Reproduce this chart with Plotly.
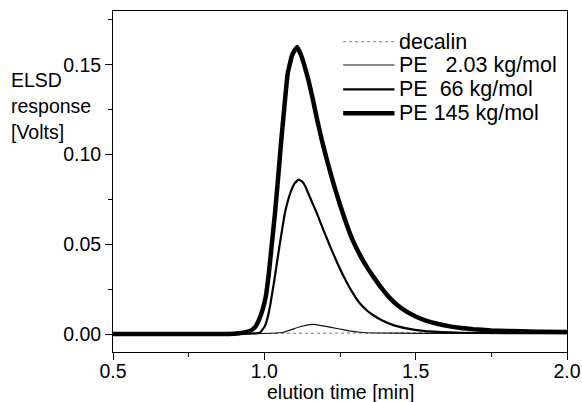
import plotly.graph_objects as go

# ---- data ----
decalin_t = [0.50, 0.90, 1.00, 1.50, 2.00]
decalin_v = [0.0000, 0.0003, 0.0007, 0.0007, 0.0007]

pe2_t = [0.50, 1.00, 1.04, 1.063, 1.09, 1.12, 1.15, 1.17, 1.20, 1.24, 1.28, 1.316, 1.36, 1.50, 2.00]
pe2_v = [0.0, 0.0003, 0.0006, 0.0010, 0.0025, 0.0042, 0.0053, 0.0053, 0.0044, 0.0031, 0.0018, 0.0010, 0.0006, 0.0004, 0.0003]

pe66_t = [0.50, 0.90, 0.96, 0.986, 1.002, 1.012, 1.019, 1.033, 1.05, 1.068, 1.08, 1.09, 1.10, 1.113,
          1.125, 1.134, 1.15, 1.173, 1.195, 1.217, 1.24, 1.261, 1.29, 1.316, 1.34, 1.36, 1.39, 1.426,
          1.47, 1.525, 1.613, 1.70, 2.00]
pe66_v = [0.0, 0.0, 0.0003, 0.0008, 0.0045, 0.0100, 0.0156, 0.0300, 0.0490, 0.0675, 0.0755, 0.0805, 0.0840, 0.0860,
          0.0850, 0.0828, 0.0765, 0.0675, 0.0580, 0.0490, 0.0400, 0.0325, 0.0235, 0.0170, 0.0130, 0.0105, 0.0075, 0.0050,
          0.0032, 0.0018, 0.0009, 0.0006, 0.0005]

pe145_t = [0.50, 0.80, 0.90, 0.93, 0.953, 0.97, 0.983, 0.995, 1.005, 1.015, 1.024, 1.035, 1.045, 1.056, 1.067,
           1.077, 1.091, 1.100, 1.108, 1.12, 1.13, 1.145, 1.16, 1.175, 1.19, 1.21, 1.23, 1.25, 1.27, 1.29,
           1.316, 1.34, 1.36, 1.39, 1.415, 1.44, 1.47, 1.50, 1.536, 1.575, 1.613, 1.65, 1.69, 1.75, 1.80, 1.90, 2.00]
pe145_v = [0.0, 0.0, 0.0002, 0.0008, 0.0017, 0.0040, 0.0082, 0.0140, 0.0211, 0.0340, 0.0490, 0.0670, 0.0860, 0.1080, 0.1280,
           0.1450, 0.1550, 0.1580, 0.1600, 0.1560, 0.1510, 0.1420, 0.1310, 0.1190, 0.1080, 0.0950, 0.0830, 0.0720, 0.0620, 0.0530,
           0.0440, 0.0370, 0.0320, 0.0250, 0.0200, 0.0160, 0.0125, 0.0098, 0.0074, 0.0056, 0.0043, 0.0034, 0.0027, 0.0020, 0.0017, 0.0013, 0.0012]

names = ["decalin",
         "PE\u00a0\u00a0\u00a02.03 kg/mol",
         "PE\u00a0\u00a066 kg/mol",
         "PE 145 kg/mol"]

x_ticks = [0.5, 1.0, 1.5, 2.0]
x_ticklabels = ["0.5", "1.0", "1.5", "2.0"]
y_ticks = [0.00, 0.05, 0.10, 0.15]
y_ticklabels = ["0.00", "0.05", "0.10", "0.15"]

FONT = "Liberation Sans, Arial, sans-serif"

styles = [dict(color="#777777", width=1, dash="dot"),
          dict(color="#111111", width=1.2),
          dict(color="black", width=2.2),
          dict(color="black", width=4.5)]

series = [(decalin_t, decalin_v), (pe2_t, pe2_v), (pe66_t, pe66_v), (pe145_t, pe145_v)]

fig = go.Figure()
for (t, v), nm, st in zip(series, names, styles):
    line = dict(st)
    if "dash" not in line:
        line.update(shape="spline", smoothing=0.3)
    fig.add_trace(go.Scatter(x=t, y=v, mode="lines", name=nm, line=line, showlegend=False))

fig.update_layout(
    template="none",
    width=582, height=402,
    margin=dict(l=113, r=15, t=11, b=50, autoexpand=False),
    paper_bgcolor="white", plot_bgcolor="white",
    font=dict(family=FONT, size=19, color="black"),
    showlegend=False,
    xaxis=dict(range=[0.5, 2.0], tickmode="array", tickvals=x_ticks, ticktext=x_ticklabels,
               ticks="outside", ticklen=7, tickwidth=1, tickcolor="black",
               showline=True, linecolor="black", linewidth=1, mirror=True,
               showgrid=False, zeroline=False, automargin=False, ticklabelstandoff=-5,
               minor=dict(ticks="outside", ticklen=4, tickwidth=1, tickcolor="black", dtick=0.25, tick0=0.5,
                          showgrid=False),
               tickfont=dict(size=19.5)),
    yaxis=dict(range=[-0.01, 0.18], tickmode="array", tickvals=y_ticks, ticktext=y_ticklabels,
               ticks="outside", ticklen=7, tickwidth=1, tickcolor="black",
               showline=True, linecolor="black", linewidth=1, mirror=True,
               showgrid=False, zeroline=False, automargin=False,
               minor=dict(ticks="outside", ticklen=4, tickwidth=1, tickcolor="black", dtick=0.025, tick0=0,
                          showgrid=False),
               tickfont=dict(size=19.5)),
)

# x-axis title below the tick labels
fig.add_annotation(text="elution time [min]", xref="paper", yref="paper", x=0.5, y=-0.117,
                   xanchor="center", yanchor="middle", showarrow=False,
                   font=dict(family=FONT, size=19.5, color="black"))

# y-axis title, three lines at the upper left
for txt, yp in [("ELSD", 0.798), ("response", 0.721), ("[Volts]", 0.645)]:
    fig.add_annotation(text=txt, xref="paper", yref="paper", x=-0.229, y=yp,
                       xanchor="left", yanchor="middle", showarrow=False,
                       font=dict(family=FONT, size=19.5, color="black"))

# legend (line samples + labels) in the upper right of the plot
leg_y = [0.910, 0.8416, 0.7704, 0.700]
for nm, st, yp in zip(names, styles, leg_y):
    fig.add_shape(type="line", xref="paper", yref="paper", x0=0.507, x1=0.620, y0=yp, y1=yp,
                  line=st)
    fig.add_annotation(text=nm, xref="paper", yref="paper", x=0.626, y=yp,
                       xanchor="left", yanchor="middle", showarrow=False,
                       font=dict(family=FONT, size=21.5, color="black"))

fig.write_html("out.html", config={"displayModeBar": False},
               post_script="document.body.style.margin='0';")
